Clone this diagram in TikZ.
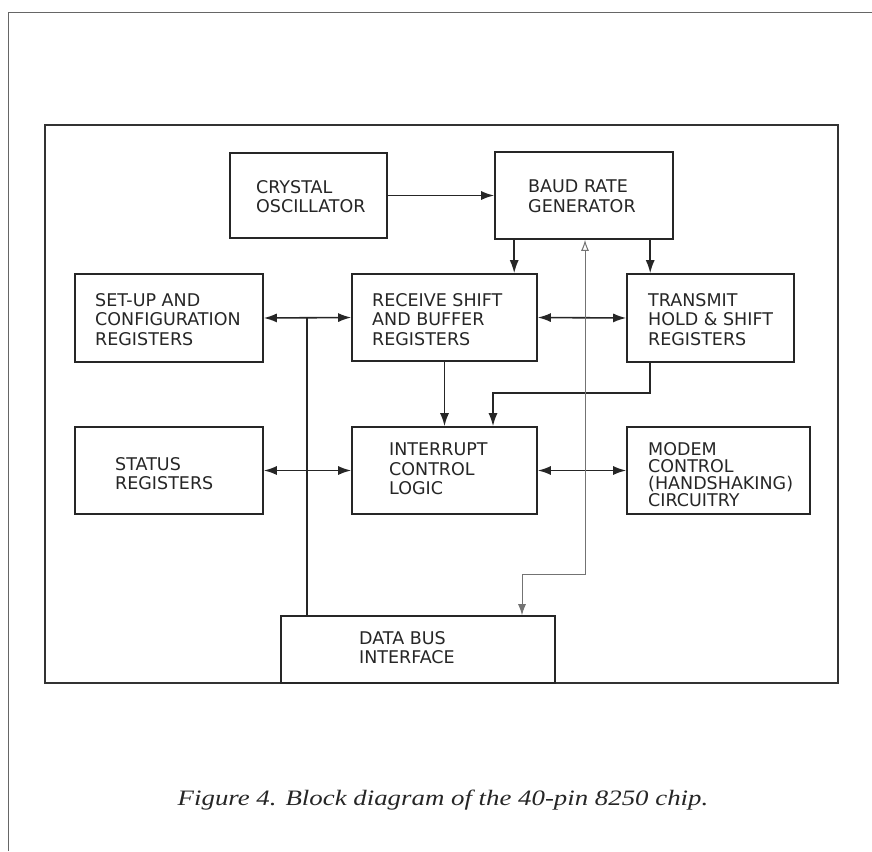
\documentclass[tikz,border=0pt]{standalone}
\usepackage{fontspec}
\newfontfamily\boxfont{DejaVu Sans}
\newfontfamily\capfont{Liberation Serif}
\usetikzlibrary{arrows.meta,calc}
\begin{document}
\begin{tikzpicture}[x=1pt,y=-1pt,
  blk/.style={draw=black!85, line width=1.6pt, inner sep=0pt},
  lbl/.style={anchor=north west, inner sep=0pt, align=left, text=black!85,
    font=\boxfont\fontsize{17.5}{19.5}\selectfont},
  frm/.style={draw=black!80, line width=1.5pt},
  wire/.style={draw=black!85, line width=1.6pt},
  arr/.style={wire, -{Latex[length=13pt,width=9pt]}},
  darr/.style={wire, {Latex[length=13pt,width=9pt]}-{Latex[length=13pt,width=9pt]}},
  garr/.style={draw=black!55, line width=1pt, {Latex[open,length=11pt,width=8pt]}-{Latex[length=11pt,width=8pt]}}
]
\useasboundingbox[fill=white] (0,0) rectangle (872,851);
% outer page frame
\coordinate (otl) at (8,13);
\coordinate (otr) at (872,13);
\coordinate (obl) at (8,851);
\draw[draw=black!60, line width=1pt] (obl) -- (otl) -- (otr);
% inner frame
\node[frm, minimum width=793pt, minimum height=558pt, inner sep=0pt] (frame) at (441.5,404) {};

% blocks
\node[blk, minimum width=157pt, minimum height=85pt] (crys) at (308.5,195.5) {};
\node[blk, minimum width=178pt, minimum height=87pt] (baud) at (584,195.5) {};
\node[blk, minimum width=188pt, minimum height=88pt] (setup) at (169,318) {};
\node[blk, minimum width=185pt, minimum height=87pt] (recv) at (444.5,317.5) {};
\node[blk, minimum width=167pt, minimum height=88pt] (trans) at (710.5,318) {};
\node[blk, minimum width=188pt, minimum height=87pt] (status) at (169,470.5) {};
\node[blk, minimum width=185pt, minimum height=87pt] (intr) at (444.5,470.5) {};
\node[blk, minimum width=183pt, minimum height=87pt] (modem) at (718.5,470.5) {};
\node[blk, minimum width=274pt, minimum height=67pt] (dbus) at (418,649.5) {};

% labels
\node[lbl] (tcrys) at (256,180) {CRYSTAL\\OSCILLATOR};
\node[lbl] (tbaud) at (528,180) {BAUD RATE\\GENERATOR};
\node[lbl] (tsetup) at (95,293) {SET-UP AND\\CONFIGURATION\\REGISTERS};
\node[lbl] (trecv) at (372,293) {RECEIVE SHIFT\\AND BUFFER\\REGISTERS};
\node[lbl] (ttrans) at (648,293) {TRANSMIT\\HOLD \& SHIFT\\REGISTERS};
\node[lbl] (tstatus) at (115,457) {STATUS\\REGISTERS};
\node[lbl] (tintr) at (389,443) {INTERRUPT\\CONTROL\\LOGIC};
\node[lbl, font=\boxfont\fontsize{17.5}{17.2}\selectfont] (tmodem) at (648,442) {MODEM\\CONTROL\\(HANDSHAKING)\\CIRCUITRY};
\node[lbl] (tdbus) at (359,631) {DATA BUS\\INTERFACE};

% connector helper points
\coordinate (bx) at ($(baud.south west)+(20,0)$);
\coordinate (tx) at ($(trans.north west)+(24,0)$);
\coordinate (bj) at (307,318);
\coordinate (tj) at (493,393);
\coordinate (gc) at (585,574);
\coordinate (gd) at (522,574);

% connectors
\draw[arr] (crys.east) -- (baud.west);
\draw[arr] (bx) -- (bx |- recv.north);
\draw[arr] (tx |- baud.south) -- (tx);
\draw[darr] (setup.east) -- (recv.west);
\draw[darr] (recv.east) -- (trans.west);
\draw[darr] (status.east) -- (intr.west);
\draw[darr] (intr.east) -- (modem.west);
\draw[wire] (bj) -- (bj |- dbus.north);
\draw[arr] (recv.south) -- (intr.north);
\draw[arr] (tx |- trans.south) |- (tj) -- (tj |- intr.north);
\draw[garr] (gc |- baud.south) -- (gc) -- (gd) -- (gd |- dbus.north);

% caption
\node[inner sep=0pt, text=black!85] (cap) at (443,800)
  {\scalebox{1.22}[1]{\capfont\itshape\fontsize{22}{26}\selectfont Figure 4. Block diagram of the 40-pin 8250 chip.}};
\end{tikzpicture}
\end{document}
